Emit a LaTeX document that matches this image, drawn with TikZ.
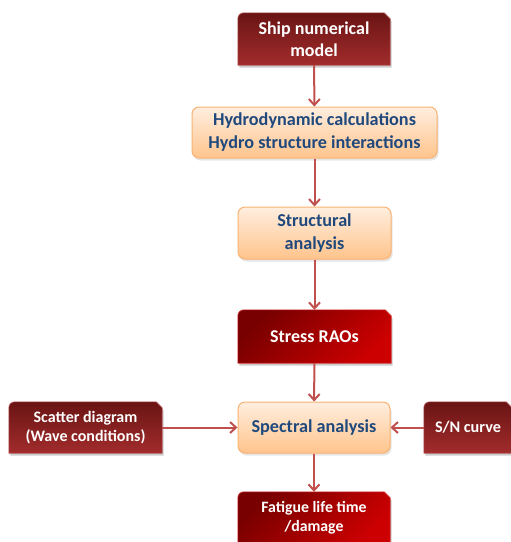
\documentclass[tikz,border=0pt]{standalone}
\usepackage{fontspec}
\setmainfont{Carlito}
\usetikzlibrary{arrows.meta,backgrounds,shadows}
\definecolor{arr}{HTML}{C0504D}
\definecolor{txtblue}{HTML}{1F497D}
\definecolor{orTop}{HTML}{FFEEDF}
\definecolor{orBot}{HTML}{FFC48C}
\definecolor{orLine}{HTML}{F9B272}
\definecolor{drTop}{HTML}{6A1414}
\definecolor{drBot}{HTML}{A22C2C}
\definecolor{brTop}{HTML}{780000}
\definecolor{brBot}{HTML}{CC0000}
\newcommand\sniprnd[4]{%
  \fill[black,opacity=0.2] ([shift={(1.5pt,-2.5pt)}]#1.south west) -- ([shift={(1.5pt,-8.5pt)}]#1.north west) -- ([shift={(-4.5pt,-2.5pt)}]#1.north east) -- ([shift={(1.5pt,-8.5pt)}]#1.north east) -- ([shift={(1.5pt,-2.5pt)}]#1.south east) -- cycle;
  \shade[shading=axis,top color=#2,bottom color=#3,shading angle=#4,draw=#3!80!white,line width=0.6pt]
    (#1.south west) -- ([yshift=-6pt]#1.north west) arc[start angle=180,end angle=90,radius=6pt]
    -- ([xshift=-6pt]#1.north east) -- ([yshift=-6pt]#1.north east) -- (#1.south east) -- cycle;}
\tikzset{
  redbox/.style={inner sep=0pt,align=center,text=white,font=\bfseries\fontsize{18}{22}\selectfont},
  orbox/.style={inner sep=0pt,align=center,text=txtblue,font=\bfseries\fontsize{18.2}{23}\selectfont,
    rounded corners=7pt,draw=orLine,line width=1pt,top color=orTop,bottom color=orBot,
    drop shadow={opacity=0.2,shadow xshift=1.5pt,shadow yshift=-2.5pt}},
  conn/.style={draw=arr,line width=2pt,-{Straight Barb[length=6pt,width=11pt,line width=2pt]}}
}
\begin{document}
\begin{tikzpicture}[x=1pt,y=1pt]
\useasboundingbox (0,0) rectangle (511,-542);
\clip (0,0) rectangle (511,-542);
\node[redbox,minimum width=152,minimum height=52] (ship) at (314,-39) {Ship numerical\\model};
\node[orbox,minimum width=245,minimum height=51] (hydro) at (314.5,-132.5) {Hydrodynamic calculations\\Hydro structure interactions};
\node[orbox,minimum width=153,minimum height=52] (struct) at (314.5,-233) {Structural\\analysis};
\node[redbox,minimum width=153,minimum height=53] (stress) at (314.5,-336.5) {Stress RAOs};
\node[orbox,minimum width=152,minimum height=51] (spec) at (314,-427.5) {Spectral analysis};
\node[redbox,font=\bfseries\fontsize{16}{19.5}\selectfont,minimum width=153,minimum height=51] (scat) at (85.5,-427.5) {Scatter diagram\\(Wave conditions)};
\node[redbox,font=\bfseries\fontsize{16.2}{20}\selectfont,minimum width=88,minimum height=51] (sn) at (468,-427.5) {S/N curve};
\node[redbox,font=\bfseries\fontsize{15.8}{19.5}\selectfont,minimum width=152,minimum height=52] (fat) at (314,-518) {Fatigue life time\\/damage};
\begin{scope}[on background layer]
\sniprnd{ship}{drTop}{drBot}{0}
\sniprnd{scat}{drTop}{drBot}{0}
\sniprnd{sn}{drTop}{drBot}{0}
\sniprnd{stress}{brTop}{brBot}{45}
\sniprnd{fat}{brTop}{brBot}{45}
\end{scope}
\draw[conn] (ship) -- (hydro);
\draw[conn] (hydro) -- (struct);
\draw[conn] (struct) -- (stress);
\draw[conn] (stress) -- (spec);
\draw[conn] (spec) -- (fat);
\draw[conn] (scat) -- (spec);
\draw[conn] (sn) -- (spec);
\end{tikzpicture}
\end{document}
